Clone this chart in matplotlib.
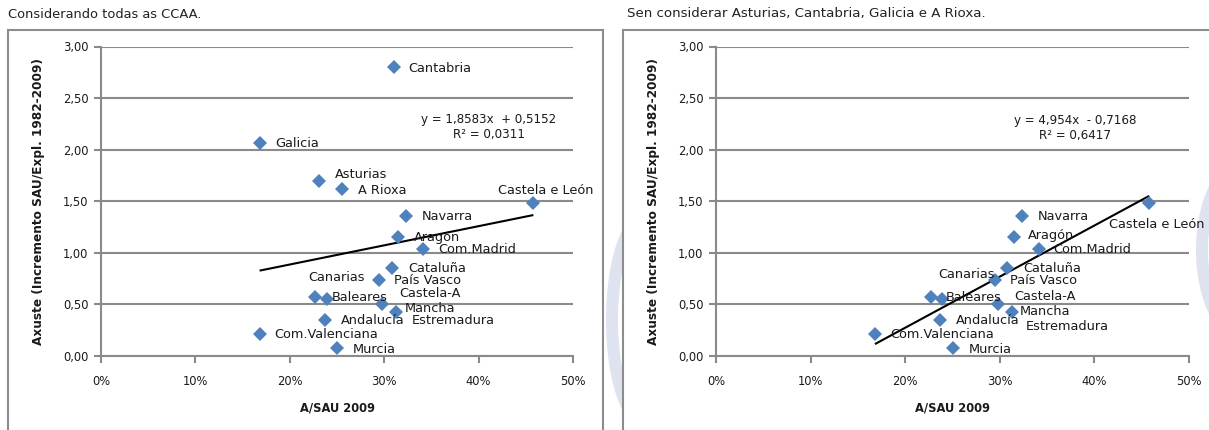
import numpy as np
import matplotlib
matplotlib.use("Agg")
import matplotlib.pyplot as plt
from matplotlib.patches import Rectangle, Polygon
from matplotlib.ticker import FuncFormatter, MultipleLocator

plt.rcParams['font.family'] = ['DejaVu Sans']

# ---------------- data ----------------
regions = ["Cantabria", "Galicia", "Asturias", "A Rioxa", "Castela e León",
           "Navarra", "Aragón", "Com.Madrid", "Cataluña", "País Vasco",
           "Canarias", "Baleares", "Castela-A\nMancha", "Estremadura",
           "Andalucía", "Com.Valenciana", "Murcia"]
a_sau_2009 = [0.310, 0.168, 0.231, 0.255, 0.458,
              0.323, 0.315, 0.341, 0.308, 0.295,
              0.227, 0.239, 0.298, 0.313,
              0.237, 0.168, 0.250]
axuste = [2.80, 2.065, 1.70, 1.616, 1.487,
          1.357, 1.156, 1.039, 0.856, 0.740,
          0.575, 0.549, 0.505, 0.425,
          0.352, 0.215, 0.075]
excluded = ["Asturias", "Cantabria", "Galicia", "A Rioxa"]

fit_all = (1.8583, 0.5152)
r2_all = 0.0311
fit_sub = (4.954, -0.7168)
r2_sub = 0.6417

titles = ["Considerando todas as CCAA.",
          "Sen considerar Asturias, Cantabria, Galicia e A Rioxa."]
eq_texts = ["y = 1,8583x  + 0,5152\nR² = 0,0311",
            "y = 4,954x  - 0,7168\nR² = 0,6417"]
xlabel = "A/SAU 2009"
ylabel = "Axuste (Incremento SAU/Expl. 1982-2009)"

# label placement (pixel offsets, alignment) per chart
offs_left = {
    "Cantabria": (15, -1, 'left'), "Galicia": (16, -1, 'left'),
    "Asturias": (16, 6, 'left'), "A Rioxa": (16, -1, 'left'),
    "Castela e León": (12, 12, 'center'), "Navarra": (16, 0, 'left'),
    "Aragón": (16, -1, 'left'), "Com.Madrid": (15, -1, 'left'),
    "Cataluña": (16, -1, 'left'), "País Vasco": (15, -1, 'left'),
    "Canarias": (21, 19, 'center'), "Baleares": (5, 2, 'left'),
    "Castela-A\nMancha": (48, 3, 'center'), "Estremadura": (15, -8, 'left'),
    "Andalucía": (16, -1, 'left'), "Com.Valenciana": (15, -1, 'left'),
    "Murcia": (16, -1, 'left'),
}
offs_right = dict(offs_left)
offs_right.update({
    "Castela e León": (7, -22, 'center'), "Aragón": (14, 1, 'left'),
    "Canarias": (36, 22, 'center'), "Baleares": (4, 2, 'left'),
    "Castela-A\nMancha": (47, 0, 'center'), "Estremadura": (14, -14, 'left'),
})

W, H = 1209, 430
fig = plt.figure(figsize=(W / 100, H / 100), dpi=100)

def fx(px):
    return px / W

def fy(py):
    return 1 - py / H

lav = '#dfe2ef'
# faint watermark crescents
def crescent(cx, cy, a, b, shift, xmax):
    t = np.linspace(np.pi / 2, 3 * np.pi / 2, 80)
    ox = cx + a * np.cos(t); oy = cy + b * np.sin(t)
    ix = cx + shift + a * np.cos(t[::-1]); iy = cy + (b - 4) * np.sin(t[::-1])
    xs = np.minimum(np.concatenate([ox, ix]), xmax)
    ys = np.concatenate([oy, iy])
    pts = np.column_stack([fx(xs), fy(ys)])
    fig.add_artist(Polygon(pts, closed=True, transform=fig.transFigure,
                           facecolor=lav, edgecolor='none', zorder=0))

crescent(640, 320, 34, 105, 12, 622)
crescent(1240, 250, 44, 90, 12, 1300)

frame_col = '#8c8c8c'
fig.add_artist(Rectangle((fx(8), fy(445)), fx(603) - fx(8), fy(30) - fy(445),
                         transform=fig.transFigure, fill=False,
                         edgecolor=frame_col, lw=1.5, zorder=1))
fig.add_artist(Rectangle((fx(623), fy(445)), fx(1260) - fx(623), fy(30) - fy(445),
                         transform=fig.transFigure, fill=False,
                         edgecolor=frame_col, lw=1.5, zorder=1))

fig.text(fx(8), fy(14), titles[0], fontsize=9.4, va='center', ha='left',
         color='#222222')
fig.text(fx(627), fy(14), titles[1], fontsize=9.6, va='center', ha='left',
         color='#222222')

axes_px = [(101, 573), (716, 1189)]
ytop, ybot = 46.5, 356
grid_col = '#8a8a8a'
pt_col = '#4F81BD'

for k in range(2):
    x0, x1 = axes_px[k]
    ax = fig.add_axes([fx(x0), fy(ybot), fx(x1) - fx(x0), fy(ytop) - fy(ybot)])
    ax.set_facecolor('none')
    ax.set_xlim(0, 0.5)
    ax.set_ylim(0, 3.0)
    for s in ['top', 'right']:
        ax.spines[s].set_visible(False)
    for s in ['left', 'bottom']:
        ax.spines[s].set_color(grid_col)
        ax.spines[s].set_linewidth(1.5)
    ax.xaxis.set_major_locator(MultipleLocator(0.1))
    ax.yaxis.set_major_locator(MultipleLocator(0.5))
    ax.xaxis.set_major_formatter(FuncFormatter(lambda v, p: f"{v*100:.0f}%"))
    ax.yaxis.set_major_formatter(FuncFormatter(lambda v, p: f"{v:.2f}".replace('.', ',')))
    ax.tick_params(axis='both', direction='out', length=5, width=1.5,
                   color=grid_col, labelsize=8.3, labelcolor='#1a1a1a')
    ax.tick_params(axis='x', pad=9)
    ax.tick_params(axis='y', pad=4)
    ax.grid(axis='y', color=grid_col, lw=1.5)
    ax.set_axisbelow(True)

    if k == 0:
        idx = list(range(len(regions)))
        fit, offs, eq = fit_all, offs_left, eq_texts[0]
        eq_pos = (489, 127)
    else:
        idx = [i for i, r in enumerate(regions) if r not in excluded]
        fit, offs, eq = fit_sub, offs_right, eq_texts[1]
        eq_pos = (1075, 128)
    xs = np.array([a_sau_2009[i] for i in idx])
    ys = np.array([axuste[i] for i in idx])

    xl = np.array([xs.min(), xs.max()])
    ax.plot(xl, fit[0] * xl + fit[1], color='black', lw=1.5, zorder=3,
            solid_capstyle='butt')
    ax.plot(xs, ys, linestyle='none', marker='D', ms=7.2, color=pt_col,
            mec=pt_col, mew=0, zorder=4)
    for i in idx:
        dx, dy, ha = offs[regions[i]]
        ax.annotate(regions[i], (a_sau_2009[i], axuste[i]), xytext=(dx, dy),
                    textcoords='offset pixels', ha=ha, va='center',
                    fontsize=9.3, color='#1a1a1a', linespacing=1.25,
                    zorder=5, annotation_clip=False)
    fig.text(fx(eq_pos[0]), fy(eq_pos[1]), eq, ha='center', va='center',
             fontsize=8.6, color='#1a1a1a', linespacing=1.25)

    fig.text(fx((x0 + x1) / 2), fy(408), xlabel, ha='center', va='center',
             fontsize=8.3, fontweight='bold', color='#1a1a1a')
    fig.text(fx(x0 - 62), fy(202), ylabel, ha='center', va='center',
             rotation=90, fontsize=8.7, fontweight='bold', color='#1a1a1a')

fig.savefig('out.png', dpi=100)
